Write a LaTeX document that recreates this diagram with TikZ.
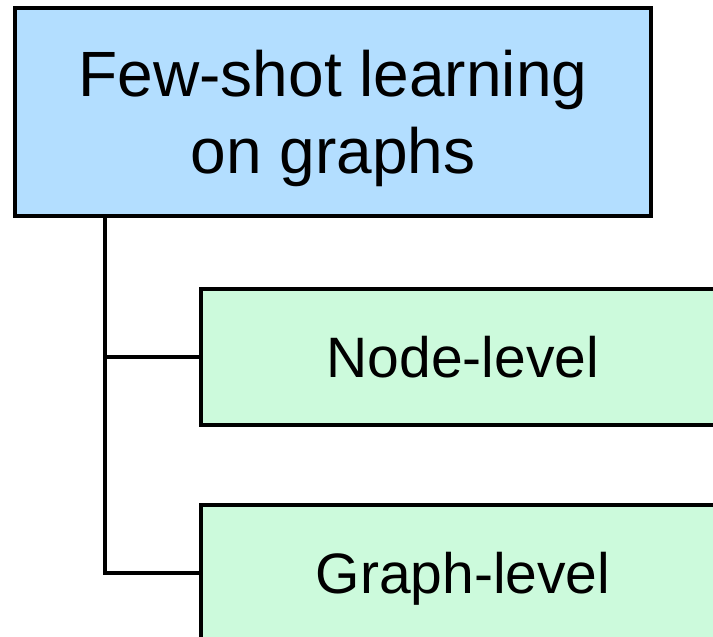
\documentclass[tikz,border=0pt]{standalone}
\usepackage{fontspec}
\setmainfont{Liberation Sans}
\definecolor{topblue}{RGB}{179,222,255}
\definecolor{leafgreen}{RGB}{204,250,220}
\tikzset{
  box/.style={draw=black, line width=3.5pt, rectangle, inner sep=0pt, align=center, text=black, text depth=0pt},
  topbox/.style={box, fill=topblue, minimum width=636pt, minimum height=208pt, font=\fontsize{64}{77}\selectfont},
  leafbox/.style={box, fill=leafgreen, minimum width=524pt, minimum height=136pt, font=\fontsize{57}{68}\selectfont},
  link/.style={draw=black, line width=3.5pt}
}
\begin{document}
\begin{tikzpicture}[x=1pt,y=-1pt]
\useasboundingbox (0,0) rectangle (713,637);
\clip (0,0) rectangle (713,637);
\node[topbox] (root) at (333,112) {Few-shot learning\\on graphs};
\node[leafbox] (node) at (463,357) {Node-level};
\node[leafbox] (graph) at (463,573) {Graph-level};
\coordinate (trunk) at (105,215);
\draw[link] (trunk) |- (graph.west);
\draw[link] (trunk |- node.west) -- (node.west);
\end{tikzpicture}
\end{document}
